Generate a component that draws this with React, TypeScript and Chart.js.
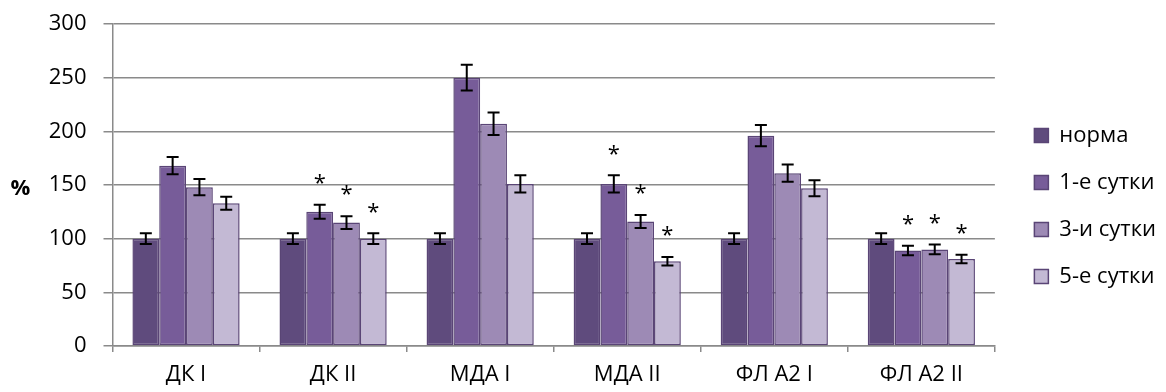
import React, { useEffect, useRef } from "react";
import { Chart, registerables } from "chart.js";

Chart.register(...registerables);

const categories = ["ДК I", "ДК II", "МДА I", "МДА II", "ФЛ А2 I", "ФЛ А2 II"];
const seriesNames = ["норма", "1-е сутки", "3-и сутки", "5-е сутки"];

const normaValues = [100, 100, 100, 100, 100, 100];
const day1Values = [168, 125, 250, 151, 196, 89];
const day3Values = [148, 115, 207, 116, 161, 90];
const day5Values = [133, 100, 151, 79, 147, 81];

const normaErrors = [5, 5, 5, 5, 5, 5];
const day1Errors = [8, 6.5, 12, 8, 10, 4.5];
const day3Errors = [7.5, 6, 10.5, 6, 8, 4.5];
const day5Errors = [6, 5, 8, 4, 7.5, 4];

const normaSignificant = [false, false, false, false, false, false];
const day1Significant = [false, true, false, true, false, true];
const day3Significant = [false, true, false, true, false, true];
const day5Significant = [false, true, false, true, false, true];

const yTickValues = [0, 50, 100, 150, 200, 250, 300];

const fillColors = ["#5f4b7d", "#775c99", "#9d8ab5", "#c3b9d4"];
const borderColor = "#5a4576";
const gridColor = "#8a8a8a";
const FONT = "'Open Sans', 'Noto Sans', sans-serif";

const allValues = [normaValues, day1Values, day3Values, day5Values];
const allErrors = [normaErrors, day1Errors, day3Errors, day5Errors];
const allSignificant = [normaSignificant, day1Significant, day3Significant, day5Significant];

const errorBarPlugin = {
  id: "errorBars",
  afterDatasetsDraw(chart: any) {
    const ctx = chart.ctx;
    const yScale = chart.scales.y;
    ctx.save();
    chart.data.datasets.forEach((ds: any, di: number) => {
      const meta = chart.getDatasetMeta(di);
      const errs = allErrors[di];
      const sig = allSignificant[di];
      meta.data.forEach((bar: any, i: number) => {
        const v = ds.data[i];
        const e = errs[i];
        const x = bar.x;
        const top = yScale.getPixelForValue(v + e);
        const bot = yScale.getPixelForValue(v - e);
        ctx.strokeStyle = "#000000";
        ctx.lineWidth = 2;
        ctx.beginPath();
        ctx.moveTo(x, top);
        ctx.lineTo(x, bot);
        ctx.moveTo(x - 6, top);
        ctx.lineTo(x + 6, top);
        ctx.moveTo(x - 6, bot);
        ctx.lineTo(x + 6, bot);
        ctx.stroke();
        if (sig[i]) {
          ctx.fillStyle = "#000000";
          ctx.font = `22px ${FONT}`;
          ctx.textAlign = "center";
          ctx.textBaseline = "middle";
          ctx.fillText("*", x, top - 21);
        }
      });
    });
    ctx.restore();
  },
};

const percentPlugin = {
  id: "percentLabel",
  afterDraw(chart: any) {
    const ctx = chart.ctx;
    ctx.save();
    ctx.fillStyle = "#000000";
    ctx.font = `bold 22px ${FONT}`;
    ctx.textAlign = "center";
    ctx.textBaseline = "middle";
    ctx.fillText("%", 20.5, 189);
    ctx.restore();
  },
};

export default function App() {
  const canvasRef = useRef<HTMLCanvasElement | null>(null);

  useEffect(() => {
    if (!canvasRef.current) return;
    const chart = new Chart(canvasRef.current, {
      type: "bar",
      data: {
        labels: categories,
        datasets: seriesNames.map((name, i) => ({
          label: name,
          data: allValues[i],
          backgroundColor: fillColors[i],
          borderColor: borderColor,
          borderWidth: 1.5,
          borderSkipped: false,
          categoryPercentage: 0.729,
          barPercentage: 1.0,
        })),
      },
      options: {
        animation: false,
        responsive: true,
        maintainAspectRatio: false,
        devicePixelRatio: 1,
        layout: { padding: { top: 24, bottom: 4, left: 0, right: 0 } },
        plugins: {
          tooltip: { enabled: false },
          legend: {
            position: "right",
            align: "center",
            labels: {
              boxWidth: 14,
              boxHeight: 14,
              padding: 25,
              color: "#000000",
              font: { family: FONT, size: 22 },
            },
          },
        },
        scales: {
          x: {
            offset: true,
            grid: {
              display: true,
              drawOnChartArea: false,
              drawTicks: true,
              tickLength: 6,
              color: gridColor,
              lineWidth: 1.5,
            },
            border: { display: true, color: gridColor, width: 1.5 },
            ticks: {
              color: "#000000",
              padding: 10,
              font: { family: FONT, size: 22 },
              maxRotation: 0,
              autoSkip: false,
            },
            afterFit: (scale: any) => {
              scale.height = 42;
            },
          },
          y: {
            min: 0,
            max: 300,
            afterBuildTicks: (scale: any) => {
              scale.ticks = yTickValues.map((v) => ({ value: v }));
            },
            grid: {
              display: true,
              drawOnChartArea: true,
              drawTicks: true,
              tickLength: 9,
              color: gridColor,
              lineWidth: 1.5,
            },
            border: { display: true, color: gridColor, width: 1.5 },
            ticks: {
              color: "#000000",
              padding: 17,
              font: { family: FONT, size: 22 },
            },
            afterFit: (scale: any) => {
              scale.width = 112.5;
              scale.paddingTop = 0;
              scale.paddingBottom = 0;
            },
          },
          y2: {
            position: "right",
            display: true,
            grid: { display: false, drawTicks: false },
            border: { display: false },
            ticks: { display: false },
            afterFit: (scale: any) => {
              scale.width = 14.5;
              scale.paddingTop = 0;
              scale.paddingBottom = 0;
            },
          },
        },
      },
      plugins: [errorBarPlugin, percentPlugin],
    });
    return () => chart.destroy();
  }, []);

  return (
    <div style={{ position: "absolute", left: 0, top: 0, width: 1166, height: 392 }}>
      <canvas ref={canvasRef} />
    </div>
  );
}
